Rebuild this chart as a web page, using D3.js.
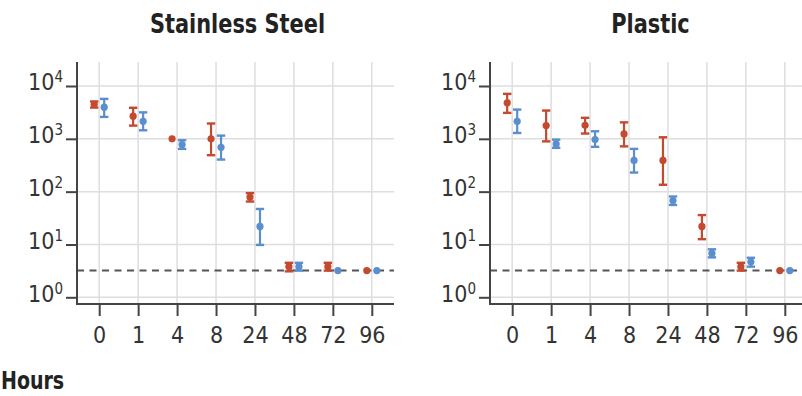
<!DOCTYPE html>
<html>
<head>
<meta charset="utf-8">
<script src="https://cdn.jsdelivr.net/npm/d3@7"></script>
<style>
  html, body { margin: 0; padding: 0; background: #fff; }
  svg { display: block; }
</style>
</head>
<body>
<svg id="chart" width="802" height="396"></svg>
<script>
// ---------------- DATA ----------------
const xLabels = ["0", "1", "4", "8", "24", "48", "72", "96"];
const yTickValues = [1, 10, 100, 1000, 10000];
const yTickExponents = ["0", "1", "2", "3", "4"];
const panelTitles = ["Stainless Steel", "Plastic"];
const axisTitle = "Hours";
const detectionLimit = 3.2;

// Stainless steel – red series (value, low, high)
const steelRed   = [4500, 2680, 1000, 1000, 79, 3.8, 3.8, 3.2];
const steelRedLo = [3900, 1780, 1000,  490, 65, 3.1, 3.2, 3.2];
const steelRedHi = [5100, 3870, 1000, 1950, 94, 4.5, 4.5, 3.2];
// Stainless steel – blue series
const steelBlue   = [3970, 2150, 780,  690, 22,  3.8, 3.2, 3.2];
const steelBlueLo = [2600, 1450, 645,  405, 9.8, 3.2, 3.2, 3.2];
const steelBlueHi = [5700, 3170, 940, 1150, 47,  4.5, 3.2, 3.2];
// Plastic – red series
const plasticRed   = [4800, 1780, 1800, 1240,  390, 22,   3.8, 3.2];
const plasticRedLo = [3100,  895, 1260,  720,  135, 12.6, 3.2, 3.2];
const plasticRedHi = [7100, 3430, 2500, 2050, 1070, 36,   4.5, 3.2];
// Plastic – blue series
const plasticBlue   = [2150, 800, 970, 390, 68, 6.8, 4.7, 3.2];
const plasticBlueLo = [1290, 675, 705, 230, 56, 5.7, 3.8, 3.2];
const plasticBlueHi = [3580, 965, 1390, 645, 81, 8.1, 5.6, 3.2];

// ---------------- LAYOUT ----------------
const RED = "#c4492e", BLUE = "#5b8ecf";
const TICK_FONT = "'DejaVu Sans Condensed', 'DejaVu Sans', sans-serif";
const TITLE_FONT = "'DejaVu Sans Condensed', 'DejaVu Sans', sans-serif";
const plotTop = 62, plotBottom = 304;
const panelX = [[77, 394], [490, 807]];

const svg = d3.select("#chart");

const y = d3.scaleLog().domain([1, 10000]).range([297.3, 86]);

const panelData = [
  { title: panelTitles[0], series: [
      { color: RED,  off: -5, v: steelRed,  lo: steelRedLo,  hi: steelRedHi },
      { color: BLUE, off:  5, v: steelBlue, lo: steelBlueLo, hi: steelBlueHi } ] },
  { title: panelTitles[1], series: [
      { color: RED,  off: -5, v: plasticRed,  lo: plasticRedLo,  hi: plasticRedHi },
      { color: BLUE, off:  5, v: plasticBlue, lo: plasticBlueLo, hi: plasticBlueHi } ] }
];

panelData.forEach((p, pi) => {
  const [x0, x1] = panelX[pi];
  const x = d3.scalePoint().domain(xLabels).range([x0, x1]).padding(0.57);
  const g = svg.append("g");

  // gridlines
  g.append("g").selectAll("line.v").data(xLabels).join("line")
    .attr("x1", d => x(d)).attr("x2", d => x(d))
    .attr("y1", plotTop).attr("y2", plotBottom)
    .attr("stroke", "#dedede").attr("stroke-width", 1.5);
  g.append("g").selectAll("line.h").data(yTickValues).join("line")
    .attr("x1", x0).attr("x2", x1)
    .attr("y1", d => y(d)).attr("y2", d => y(d))
    .attr("stroke", "#dedede").attr("stroke-width", 1.5);

  // detection limit
  g.append("line")
    .attr("x1", x0).attr("x2", x1)
    .attr("y1", y(detectionLimit)).attr("y2", y(detectionLimit))
    .attr("stroke", "#555").attr("stroke-width", 2)
    .attr("stroke-dasharray", "7,5.5");

  // x axis
  const xa = g.append("g").attr("transform", `translate(0,${plotBottom})`)
    .call(d3.axisBottom(x).tickSize(12).tickSizeOuter(0).tickPadding(11));
  xa.select(".domain").remove();
  xa.selectAll(".tick line").attr("stroke", "#444").attr("stroke-width", 2);
  xa.selectAll(".tick text").attr("font-family", TICK_FONT).attr("font-size", 23)
    .attr("fill", "#333");

  // y axis
  const ya = g.append("g").attr("transform", `translate(${x0},0)`)
    .call(d3.axisLeft(y).tickValues(yTickValues).tickSize(11).tickSizeOuter(0)
      .tickPadding(3).tickFormat(() => ""));
  ya.select(".domain").remove();
  ya.selectAll(".tick line").attr("stroke", "#444").attr("stroke-width", 2);
  ya.selectAll(".tick text").each(function(d, i) {
    const t = d3.select(this);
    t.text(null).attr("font-family", TICK_FONT).attr("fill", "#333")
      .attr("dy", "0.39em");
    t.append("tspan").attr("font-size", 23).text("10");
    t.append("tspan").attr("font-size", 15).attr("dy", -8).text(yTickExponents[i]);
  });

  // axis lines
  g.append("line").attr("x1", x0).attr("x2", x0).attr("y1", plotTop).attr("y2", plotBottom + 1)
    .attr("stroke", "#444").attr("stroke-width", 2);
  g.append("line").attr("x1", x0).attr("x2", x1).attr("y1", plotBottom).attr("y2", plotBottom)
    .attr("stroke", "#444").attr("stroke-width", 2);

  // title (horizontally condensed to mimic the narrow original typeface)
  g.append("text")
    .attr("transform", `translate(${(x0 + x1) / 2 + 2},33) scale(0.86,1)`)
    .attr("text-anchor", "middle").attr("font-family", TITLE_FONT)
    .attr("font-weight", "bold").attr("font-size", 27).attr("fill", "#222")
    .text(p.title);

  // series
  p.series.forEach(s => {
    const sg = g.append("g");
    const idx = xLabels.map((d, i) => i);
    const cx = i => x(xLabels[i]) + s.off;
    const withBar = idx.filter(i => s.hi[i] > s.lo[i]);
    sg.selectAll("line.bar").data(withBar).join("line")
      .attr("x1", cx).attr("x2", cx)
      .attr("y1", i => y(s.lo[i])).attr("y2", i => y(s.hi[i]))
      .attr("stroke", s.color).attr("stroke-width", 2.2);
    ["lo", "hi"].forEach(k => {
      sg.selectAll("line.cap" + k).data(withBar).join("line")
        .attr("x1", i => cx(i) - 4.2).attr("x2", i => cx(i) + 4.2)
        .attr("y1", i => y(s[k][i])).attr("y2", i => y(s[k][i]))
        .attr("stroke", s.color).attr("stroke-width", 2.4);
    });
    sg.selectAll("circle").data(idx).join("circle")
      .attr("cx", cx).attr("cy", i => y(s.v[i])).attr("r", 3.6)
      .attr("fill", s.color);
  });
});

// x-axis title
svg.append("text")
  .attr("transform", "translate(1,389) scale(0.88,1)")
  .attr("font-family", TITLE_FONT).attr("font-weight", "bold")
  .attr("font-size", 24).attr("fill", "#222").text(axisTitle);
</script>
</body>
</html>
